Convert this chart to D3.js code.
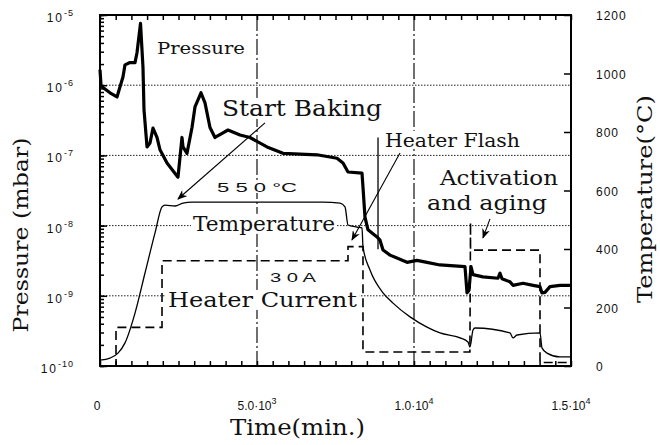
<!DOCTYPE html>
<html>
<head>
<meta charset="utf-8">
<script src="https://cdn.jsdelivr.net/npm/d3@7"></script>
<style>
  body { margin: 0; background: #fff; }
  svg { display: block; }
</style>
</head>
<body>
<div id="chart"></div>
<script>
// ---- data ----
// pressure (mbar) against time (min.)
const pressureTime = [0, 32, 96, 318, 541, 733, 796, 955, 1115, 1178, 1290, 1369, 1401, 1497, 1592, 1688, 1815, 1911, 2134, 2484,
  2611, 2643, 2770, 2930, 3025, 3216, 3344, 3503, 3662, 3917, 4076, 4459, 4777, 5318, 5828, 6911, 7548, 7739, 7898, 8344,
  8376, 8439, 8535, 8822, 8917, 9013, 9236, 9777, 10096, 10414, 10828, 11624, 11688, 11752, 11815, 11879, 12197, 12675, 12739, 12803,
  13057, 13153, 13471, 13790, 14013, 14076, 14172, 14331, 14650, 15000];
const pressureValue = [1.66e-6, 1.0e-6, 9.3e-7, 7.8e-7, 6.8e-7, 1.32e-6, 1.95e-6, 2.1e-6, 2.1e-6, 2.9e-6, 7.6e-6, 1.8e-6, 4.5e-7, 1.32e-7, 1.5e-7, 2.45e-7, 1.8e-7, 1.2e-7, 7.8e-8, 4.9e-8,
  1.8e-7, 1.32e-7, 1.07e-7, 2.5e-7, 4.9e-7, 7.8e-7, 5.6e-7, 2.5e-7, 1.8e-7, 2.1e-7, 2.3e-7, 1.95e-7, 1.8e-7, 1.32e-7, 1.07e-7, 1.02e-7, 9.1e-8, 7.8e-8, 5.8e-8, 5.6e-8,
  3.5e-8, 1.32e-8, 8.7e-9, 6.9e-9, 6.2e-9, 4.5e-9, 3.8e-9, 3.0e-9, 3.2e-9, 3.0e-9, 2.75e-9, 2.6e-9, 1.1e-9, 1.2e-9, 2.6e-9, 2.0e-9, 1.86e-9, 1.78e-9, 2.1e-9, 1.75e-9,
  1.58e-9, 1.41e-9, 1.51e-9, 1.41e-9, 1.35e-9, 1.1e-9, 1.12e-9, 1.35e-9, 1.41e-9, 1.41e-9];

// temperature (°C) against time (min.)
const tempTime = [0, 318, 573, 796, 1115, 1433, 1752, 1975, 2070, 2389, 2643, 2930, 7102, 7643, 7803, 7898, 8185, 8344, 8376, 8599,
  9013, 9331, 9873, 10414, 10828, 11465, 11720, 11783, 11879, 11943, 13057, 13153, 13280, 14013, 14076, 14236, 14650, 15000];
const tempValue = [20, 27, 44, 79, 181, 318, 455, 544, 550, 547, 557, 560, 560, 557, 544, 482, 475, 472, 407, 328,
  250, 215, 168, 133, 113, 96, 82, 65, 123, 130, 113, 96, 106, 113, 62, 44, 31, 31];

// heater current (A, drawn on its own scale) against time (min.)
const currentTime = [0, 510, 510, 1975, 1975, 7898, 7898, 8375, 8375, 11780, 11800, 11800, 14013, 14013, 15000];
const currentValue = [0, 0, 11, 11, 30, 30, 34, 34, 4, 4, 41, 33, 33, 1, 1];

// short pressure burst during the heater flash (mbar)
const flashTime = 8854;
const flashRange = [1.8e-7, 4.6e-9];

// axis ticks
const pressureTicks = [1e-10, 1e-9, 1e-8, 1e-7, 1e-6, 1e-5];
const pressureTickExp = ["-10", "-9", "-8", "-7", "-6", "-5"];
const pressureGrid = [1e-9, 1e-8, 1e-7, 1e-6];
const timeTicks = [0, 5000, 10000, 15000];
const timeTickBase = ["0", "5.0·10", "1.0·10", "1.5·10"];
const timeTickExp = ["", "3", "4", "4"];
const timeGrid = [5000, 10000];
const tempTicks = [0, 200, 400, 600, 800, 1000, 1200];

// ---- layout ----
const W = 660, H = 445;
const margin = { top: 15, right: 89, bottom: 79, left: 100 };
const width = W - margin.left - margin.right;
const height = H - margin.top - margin.bottom;

const x = d3.scaleLinear().domain([0, 15000]).range([0, width]);
const yP = d3.scaleLog().domain([1e-10, 1e-5]).range([height, 0]);
const yT = d3.scaleLinear().domain([0, 1200]).range([height, 0]);
const yI = d3.scaleLinear().domain([0, 100]).range([height, 0]);

const serif = "'DejaVu Serif', 'Liberation Serif', serif";
const sans = "'Liberation Sans', Arial, sans-serif";

const root = d3.select("#chart")
    .append("svg")
    .attr("width", W)
    .attr("height", H)
    .attr("viewBox", `0 0 ${W} ${H}`);

root.append("defs").append("marker")
    .attr("id", "arrow")
    .attr("markerUnits", "userSpaceOnUse")
    .attr("markerWidth", 10)
    .attr("markerHeight", 8)
    .attr("refX", 9)
    .attr("refY", 4)
    .attr("orient", "auto")
    .append("path")
    .attr("d", "M0,0 L10,4 L0,8 L3,4 z")
    .attr("fill", "#000");

const svg = root.append("g")
    .attr("transform", `translate(${margin.left},${margin.top})`);

// gridlines
svg.append("g")
    .selectAll("line")
    .data(pressureGrid)
    .enter()
    .append("line")
    .attr("x1", 0).attr("x2", width)
    .attr("y1", d => yP(d)).attr("y2", d => yP(d))
    .attr("stroke", "#222")
    .attr("stroke-width", 1)
    .style("stroke-dasharray", "1.5,1.5");

svg.append("g")
    .selectAll("line")
    .data(timeGrid)
    .enter()
    .append("line")
    .attr("x1", d => x(d)).attr("x2", d => x(d))
    .attr("y1", 0).attr("y2", height)
    .attr("stroke", "#111")
    .attr("stroke-width", 1.2)
    .style("stroke-dasharray", "16,3,2,3");

// text notes inside the plot (positions in time / temperature units)
const notes = [
    { text: "Pressure", t: 1815, T: 1066, len: 88, size: 17, font: serif },
    { text: "Start Baking", t: 3885, T: 855, len: 160, size: 22, font: serif },
    { text: "Heater Flash", t: 9076, T: 749, len: 135, size: 19, font: serif },
    { text: "Activation", t: 10828, T: 619, len: 118, size: 20, font: serif },
    { text: "and aging", t: 10414, T: 533, len: 120, size: 20, font: serif },
    { text: "5 5 0   °C", t: 3726, T: 595, len: 80, size: 13, font: sans },
    { text: "Temperature", t: 2962, T: 462, len: 142, size: 20, font: serif },
    { text: "3 0 A", t: 5414, T: 287, len: 46, size: 13, font: sans },
    { text: "Heater Current", t: 2166, T: 202, len: 189, size: 21, font: serif }
];

const noteBg = svg.append("g");

// curves
svg.append("path")
    .attr("d", d3.line()
        .x((d, i) => x(currentTime[i]))
        .y(d => yI(d))(currentValue))
    .attr("fill", "none")
    .attr("stroke", "#000")
    .attr("stroke-width", 1.6)
    .style("stroke-dasharray", "9,5");

svg.append("path")
    .attr("d", d3.line()
        .x((d, i) => x(tempTime[i]))
        .y(d => yT(d))
        .curve(d3.curveMonotoneX)(tempValue))
    .attr("fill", "none")
    .attr("stroke", "#000")
    .attr("stroke-width", 1.3);

svg.append("line")
    .attr("x1", x(flashTime)).attr("x2", x(flashTime))
    .attr("y1", yP(flashRange[0])).attr("y2", yP(flashRange[1]))
    .attr("stroke", "#000")
    .attr("stroke-width", 1.3);

svg.append("path")
    .attr("d", d3.line()
        .x((d, i) => x(pressureTime[i]))
        .y(d => yP(d))(pressureValue))
    .attr("fill", "none")
    .attr("stroke", "#000")
    .attr("stroke-width", 3.2)
    .attr("stroke-linejoin", "round");

// arrows (time / temperature units)
const arrows = [
    { from: [5255, 831], to: [2484, 571] },
    { from: [9554, 728], to: [8025, 431] },
    { from: [12420, 503], to: [12197, 438] }
];
svg.append("g")
    .selectAll("line")
    .data(arrows)
    .enter()
    .append("line")
    .attr("x1", d => x(d.from[0])).attr("y1", d => yT(d.from[1]))
    .attr("x2", d => x(d.to[0])).attr("y2", d => yT(d.to[1]))
    .attr("stroke", "#000")
    .attr("stroke-width", 1.1)
    .attr("marker-end", "url(#arrow)");

const noteText = svg.append("g")
    .selectAll("text")
    .data(notes)
    .enter()
    .append("text")
    .attr("x", d => x(d.t))
    .attr("y", d => yT(d.T))
    .attr("textLength", d => d.len)
    .attr("lengthAdjust", "spacingAndGlyphs")
    .style("font-family", d => d.font)
    .style("font-size", d => d.size + "px")
    .attr("fill", "#111")
    .text(d => d.text);

noteText.each(function () {
    const b = this.getBBox();
    noteBg.append("rect")
        .attr("x", b.x - 2).attr("y", b.y + 2)
        .attr("width", b.width + 4).attr("height", b.height - 4)
        .attr("fill", "#fff");
});

// ticks (inward)
const minorTime = d3.range(0, 15001, 500);
svg.append("g")
    .attr("transform", `translate(0,${height})`)
    .call(d3.axisBottom(x).tickValues(minorTime).tickSize(-5).tickSizeOuter(0).tickFormat(""))
    .call(g => g.select(".domain").remove());
svg.append("g")
    .call(d3.axisTop(x).tickValues(minorTime).tickSize(-5).tickSizeOuter(0).tickFormat(""))
    .call(g => g.select(".domain").remove());
svg.append("g")
    .call(d3.axisLeft(yP).tickValues(yP.ticks()).tickSize(-4).tickSizeOuter(0).tickFormat(""))
    .call(g => g.select(".domain").remove());
svg.append("g")
    .call(d3.axisLeft(yP).tickValues(pressureTicks).tickSize(-7).tickSizeOuter(0).tickFormat(""))
    .call(g => g.select(".domain").remove());
svg.append("g")
    .attr("transform", `translate(${width},0)`)
    .call(d3.axisRight(yT).tickValues(tempTicks).tickSize(-7).tickSizeOuter(0).tickFormat(""))
    .call(g => g.select(".domain").remove());
svg.selectAll(".tick line").attr("stroke", "#000").attr("stroke-width", 1.5);

// frame
svg.append("rect")
    .attr("x", 0).attr("y", 0)
    .attr("width", width).attr("height", height)
    .attr("fill", "none")
    .attr("stroke", "#000")
    .attr("stroke-width", 2);

// tick labels
const leftLab = svg.append("g")
    .selectAll("text")
    .data(pressureTicks)
    .enter()
    .append("text")
    .attr("x", -26)
    .attr("y", d => yP(d) + 7)
    .attr("text-anchor", "end")
    .style("font-family", sans)
    .style("font-size", "12px")
    .style("letter-spacing", "2px")
    .attr("fill", "#111");
leftLab.append("tspan").text("10");
leftLab.append("tspan")
    .attr("dy", -6)
    .style("font-size", "9px")
    .style("letter-spacing", "1px")
    .text((d, i) => pressureTickExp[i]);

const bottomLab = svg.append("g")
    .selectAll("text")
    .data(timeTicks)
    .enter()
    .append("text")
    .attr("x", (d, i) => x(d) + (i === 0 ? -3 : 0))
    .attr("y", height + 44)
    .attr("text-anchor", "middle")
    .style("font-family", sans)
    .style("font-size", "12px")
    .attr("fill", "#111");
bottomLab.append("tspan").text((d, i) => timeTickBase[i]);
bottomLab.append("tspan")
    .attr("dy", -6)
    .style("font-size", "9px")
    .text((d, i) => timeTickExp[i]);

svg.append("g")
    .selectAll("text")
    .data(tempTicks)
    .enter()
    .append("text")
    .attr("x", width + 25)
    .attr("y", d => yT(d) + 5)
    .style("font-family", sans)
    .style("font-size", "12px")
    .style("letter-spacing", "1px")
    .attr("fill", "#111")
    .text(d => d);

// axis titles
root.append("text")
    .attr("transform", "translate(28,235) rotate(-90)")
    .attr("text-anchor", "middle")
    .attr("textLength", 195)
    .attr("lengthAdjust", "spacingAndGlyphs")
    .style("font-family", serif)
    .style("font-size", "21px")
    .attr("fill", "#111")
    .text("Pressure (mbar)");

root.append("text")
    .attr("transform", "translate(652,199) rotate(-90)")
    .attr("text-anchor", "middle")
    .attr("textLength", 208)
    .attr("lengthAdjust", "spacingAndGlyphs")
    .style("font-family", serif)
    .style("font-size", "20px")
    .attr("fill", "#111")
    .text("Temperature(°C)");

root.append("text")
    .attr("x", 230)
    .attr("y", 435)
    .attr("textLength", 135)
    .attr("lengthAdjust", "spacingAndGlyphs")
    .style("font-family", serif)
    .style("font-size", "22px")
    .attr("fill", "#111")
    .text("Time(min.)");
</script>
</body>
</html>
